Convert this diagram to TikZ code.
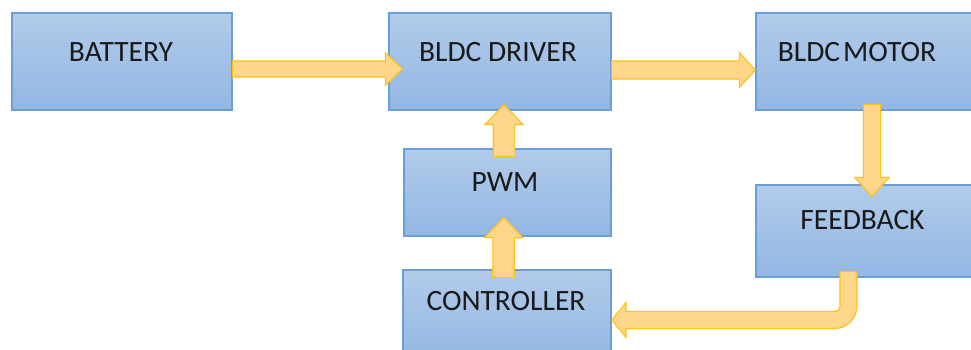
\documentclass[tikz,border=0pt]{standalone}
\usepackage{fontspec}
\setmainfont{Carlito}
\usetikzlibrary{calc}
\definecolor{boxtop}{RGB}{178,203,234}
\definecolor{boxbot}{RGB}{146,183,227}
\definecolor{boxline}{RGB}{108,158,214}
\definecolor{arrfill}{RGB}{255,214,138}
\definecolor{arrline}{RGB}{255,193,20}
\tikzset{
  blockbox/.style={draw=boxline, line width=1.3pt, top color=boxtop, bottom color=boxbot, inner sep=0pt},
  lbl/.style={font=\fontsize{29.5}{31}\selectfont, text=black!90, inner sep=0pt},
  barrowstyle/.style={fill=arrfill, draw=arrline, line width=1.1pt, line join=miter},
}
% #1 start, #2 tip, #3 shaft half width, #4 head half width, #5 head length
\newcommand\blockarrow[5]{%
  \path[barrowstyle] let \p1=(#1), \p2=(#2),
      \n1={atan2(\y2-\y1,\x2-\x1)}, \n2={veclen(\x2-\x1,\y2-\y1)} in
    [shift={(\p1)}, rotate=\n1]
    (0pt,-#3pt) -- ({(\n2-#5)*1pt},-#3pt) -- ({(\n2-#5)*1pt},-#4pt) -- ({\n2*1pt},0pt)
    -- ({(\n2-#5)*1pt},#4pt) -- ({(\n2-#5)*1pt},#3pt) -- (0pt,#3pt) -- cycle;}
\begin{document}
\begin{tikzpicture}[x=1pt,y=-1pt]
\useasboundingbox (0,0) rectangle (971,349);
\clip (0,0) rectangle (971,349);
% boxes
\node[blockbox, minimum width=220pt, minimum height=97pt] (bat) at (122,61.5) {};
\node[blockbox, minimum width=222pt, minimum height=97pt] (drv) at (500,61.5) {};
\node[blockbox, minimum width=224pt, minimum height=97pt] (mot) at (868,61.5) {};
\node[blockbox, minimum width=207pt, minimum height=87pt] (pwm) at (507.5,192.5) {};
\node[blockbox, minimum width=208pt, minimum height=92pt] (ctl) at (507,316) {};
\node[blockbox, minimum width=224pt, minimum height=92pt] (fb) at (868,231) {};
% labels
\node[lbl] (tbat) at (121,52) {BATTERY};
\node[lbl] (tdrv) at (498,52.5) {BLDC DRIVER};
\node[lbl] (tmot) at (857,52.5) {BLDC\hspace{0.1em}MOTOR};
\node[lbl] (tpwm) at (505,182.5) {PWM};
\node[lbl] (tfb) at (862.5,220.5) {FEEDBACK};
\node[lbl] (tctl) at (506,301.5) {CONTROLLER};
% connector end points
\coordinate (a1s) at ([yshift=-7.5pt]bat.east);
\coordinate (a1e) at ([xshift=14pt,yshift=-7.5pt]drv.west);
\coordinate (a2s) at ([yshift=-8.5pt]drv.east);
\coordinate (a2e) at ([yshift=-8.5pt]mot.west);
\coordinate (a3s) at ([xshift=4pt,yshift=6pt]mot.south);
\coordinate (a3e) at ([xshift=4pt,yshift=-12pt]fb.north);
\coordinate (a4s) at ([xshift=-3.5pt,yshift=-8pt]pwm.north);
\coordinate (a4e) at ([xshift=4pt,yshift=6pt]drv.south);
\coordinate (a5s) at ([xshift=-3.5pt,yshift=-8pt]ctl.north);
\coordinate (a5e) at ([xshift=-3.5pt,yshift=19pt]pwm.south);
% arrows
\blockarrow{a1s}{a1e}{8}{16.5}{17}
\blockarrow{a2s}{a2e}{9}{17.5}{16}
\blockarrow{a3s}{a3e}{8.5}{17.5}{19}
\blockarrow{a4s}{a4e}{10.8}{19.2}{20}
\blockarrow{a5s}{a5e}{10.8}{19.2}{20}
% curved feedback -> controller arrow
\path[barrowstyle]
  ([xshift=-28pt,yshift=6pt]fb.south) coordinate (c1)
  -- ([xshift=-11pt,yshift=6pt]fb.south) coordinate (c2)
  -- (857,306) .. controls (857,318.1) and (846.9,328.5) .. (835,328.5)
  -- (626,328.5) -- (626,337.5) -- (ctl.east |- 0,320) -- (626,302.5) -- (626,311.5)
  -- (835,311.5) .. controls (837.6,311.5) and (840,309) .. (840,306.5)
  -- (c1) -- cycle;
\end{tikzpicture}
\end{document}
